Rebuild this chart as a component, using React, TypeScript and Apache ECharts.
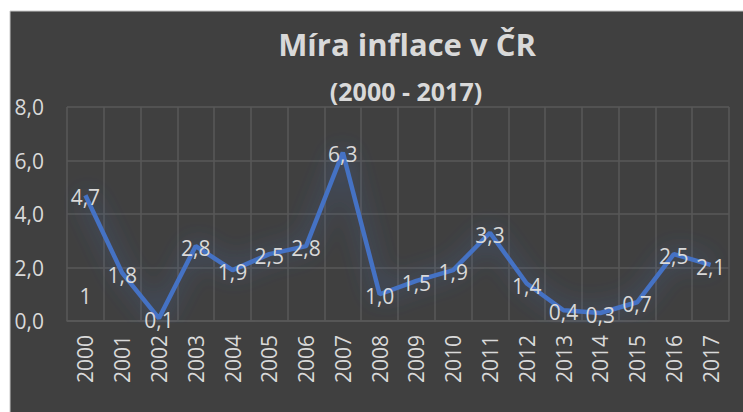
import React, { useEffect, useRef } from "react";
import * as echarts from "echarts";

const years = ["2000","2001","2002","2003","2004","2005","2006","2007","2008","2009","2010","2011","2012","2013","2014","2015","2016","2017"];
const inflation = [4.7, 1.8, 0.1, 2.8, 1.9, 2.5, 2.8, 6.3, 1.0, 1.5, 1.9, 3.3, 1.4, 0.4, 0.3, 0.7, 2.5, 2.1];
const strayValues = [1, null, null, null, null, null, null, null, null, null, null, null, null, null, null, null, null, null];
const yTicks = { min: 0, max: 8, interval: 2 };
const titleText = "Míra inflace v ČR";
const subtitleText = "(2000 - 2017)";

const FONT = "'Open Sans', 'Liberation Sans', sans-serif";
const TEXT = "#d9d9d9";
const GRID = "#595959";

export default function App() {
  const ref = useRef<HTMLDivElement>(null);
  useEffect(() => {
    if (!ref.current) return;
    const chart = echarts.init(ref.current, null, { renderer: "svg" });
    const fmt = (v: number) => v.toFixed(1).replace(".", ",");
    chart.setOption({
      animation: false,
      backgroundColor: "#ffffff",
      textStyle: { fontFamily: FONT },
      graphic: [
        {
          type: "rect",
          z: -10,
          silent: true,
          shape: { x: 10, y: 11, width: 740, height: 410 },
          style: { fill: "#404040", stroke: "#c8c8c8", lineWidth: 1 },
        },
        {
          type: "text",
          x: 407,
          y: 44,
          style: {
            text: titleText,
            fill: TEXT,
            font: `bold 31px ${FONT}`,
            textAlign: "center",
            textVerticalAlign: "middle",
          },
        },
        {
          type: "text",
          x: 406,
          y: 91,
          style: {
            text: subtitleText,
            fill: TEXT,
            font: `bold 25px ${FONT}`,
            textAlign: "center",
            textVerticalAlign: "middle",
          },
        },
      ],
      grid: { left: 67, right: 14, top: 107, bottom: 91 },
      xAxis: {
        type: "category",
        data: years,
        boundaryGap: true,
        axisLine: { show: true, lineStyle: { color: GRID, width: 1.5 } },
        axisTick: { show: false },
        splitLine: { show: true, interval: 0, lineStyle: { color: GRID, width: 1.5 } },
        axisLabel: {
          rotate: 90,
          interval: 0,
          margin: 14,
          color: TEXT,
          fontSize: 21,
          fontFamily: FONT,
        },
      },
      yAxis: {
        type: "value",
        min: yTicks.min,
        max: yTicks.max,
        interval: yTicks.interval,
        axisLine: { show: false },
        axisTick: { show: false },
        splitLine: { show: true, lineStyle: { color: GRID, width: 1.5 } },
        axisLabel: {
          color: TEXT,
          fontSize: 21,
          fontFamily: FONT,
          margin: 23,
          formatter: (v: number) => fmt(v),
        },
      },
      series: [
        {
          type: "line",
          data: inflation,
          symbol: "circle",
          symbolSize: 0.1,
          itemStyle: { color: "#4472C4" },
          lineStyle: {
            color: "#4472C4",
            width: 4.5,
            shadowColor: "rgba(68,114,196,0.7)",
            shadowBlur: 24,
          },
          label: {
            show: true,
            position: "inside",
            offset: [0, 2],
            color: TEXT,
            fontSize: 21,
            fontFamily: FONT,
            formatter: (p: any) => fmt(p.value),
          },
          z: 3,
        },
        {
          type: "line",
          data: strayValues,
          symbol: "circle",
          symbolSize: 0.1,
          itemStyle: { color: "rgba(0,0,0,0)" },
          lineStyle: { width: 0 },
          label: {
            show: true,
            position: "inside",
            offset: [0, 2],
            color: TEXT,
            fontSize: 21,
            fontFamily: FONT,
            formatter: (p: any) => String(p.value),
          },
          z: 2,
        },
      ],
    });
    return () => chart.dispose();
  }, []);
  return (
    <div
      ref={ref}
      style={{ position: "absolute", left: 0, top: 0, width: 743, height: 412 }}
    />
  );
}
